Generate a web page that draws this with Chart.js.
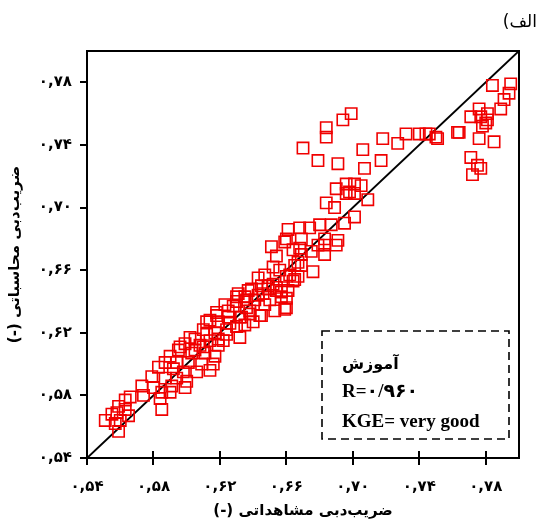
<!DOCTYPE html>
<html><head><meta charset="utf-8">
<script src="https://cdn.jsdelivr.net/npm/chart.js@4.4.1/dist/chart.umd.min.js"></script>
<style>html,body{margin:0;padding:0;background:#fff}#wrap{width:542px;height:529px;position:relative}</style>
</head><body><div id="wrap"><canvas id="c" width="542" height="529"></canvas></div>
<script>
// ---- data ----
const tickValues = [0.54, 0.58, 0.62, 0.66, 0.70, 0.74, 0.78];
const tickLabels = ['۰,۵۴', '۰,۵۸', '۰,۶۲', '۰,۶۶', '۰,۷۰', '۰,۷۴', '۰,۷۸'];
const lineEnds = [0.54, 0.80];
const chartTitle = 'الف)\u200F';
const xTitle = 'ضریب\u200Cدبی مشاهداتی (-)\u200F';
const yTitle = 'ضریب\u200Cدبی محاسباتی (-)\u200F';
const legendLines = ['آموزش', 'R=۰/۹۶۰', 'KGE= very good'];

const observed = [
0.784,0.795,0.794,0.791,0.789,0.776,0.771,0.777,0.781,0.781,0.780,0.778,0.763,0.764,0.776,0.785,0.771,0.775,0.777,0.772,
0.670,0.679,0.691,0.684,0.684,0.694,0.699,0.706,0.707,0.717,0.718,0.727,0.732,0.740,0.744,0.746,0.750,0.751,
0.690,0.696,0.701,0.705,0.696,0.701,0.698,0.709,0.684,0.689,
0.701,0.695,0.687,0.680,0.674,0.668,0.661,0.660,0.669,0.683,0.691,0.690,0.679,0.683,0.651,0.668,0.664,0.654,0.669,0.683,0.675,0.659,
0.667,0.665,0.652,0.669,0.676,0.662,0.665,0.660,0.643,0.649,0.654,0.639,0.657,0.646,0.635,0.630,0.628,0.625,0.660,0.645,0.618,0.614,0.636,0.638,0.633,
0.667,0.664,0.652,0.649,0.654,0.643,0.637,0.631,0.660,0.659,0.636,0.630,0.623,0.638,0.644,0.618,0.632,0.625,0.619,0.612,0.640,0.630,0.624,0.617,0.610,
0.605,0.614,0.622,0.632,0.599,0.596,0.610,0.612,0.619,0.624,0.608,0.619,0.595,0.603,0.611,0.617,0.590,0.587,0.594,0.601,0.609,0.616,
0.583,0.592,0.598,0.606,0.614,0.579,0.587,0.594,0.600,0.599,0.591,0.573,0.580,0.585,0.590,0.574,0.584,0.566,0.563,0.559,0.563,0.585,
0.558,0.565,0.555,0.551,0.560,0.557,0.559,0.661,0.657,
0.626,0.635,0.647,0.650,0.641,0.653,0.645,0.656,0.647,0.605,0.602
];
const simulated = [
0.778,0.779,0.773,0.769,0.763,0.763,0.758,0.758,0.760,0.756,0.754,0.752,0.748,0.748,0.744,0.742,0.732,0.727,0.725,0.721,
0.738,0.730,0.728,0.751,0.745,0.756,0.760,0.737,0.725,0.730,0.744,0.741,0.747,0.747,0.747,0.747,0.745,0.744,
0.712,0.715,0.715,0.714,0.709,0.709,0.710,0.705,0.703,0.700,
0.694,0.690,0.689,0.689,0.687,0.687,0.686,0.680,0.680,0.680,0.679,0.676,0.676,0.676,0.675,0.674,0.673,0.669,0.670,0.670,0.672,0.678,
0.665,0.663,0.662,0.663,0.659,0.657,0.654,0.656,0.655,0.650,0.649,0.648,0.646,0.645,0.643,0.643,0.637,0.634,0.636,0.631,0.631,0.628,0.636,0.632,0.630,
0.656,0.653,0.651,0.648,0.647,0.644,0.647,0.645,0.642,0.635,0.641,0.640,0.638,0.634,0.631,0.633,0.630,0.630,0.627,0.627,0.627,0.624,0.622,0.620,0.622,
0.616,0.615,0.615,0.617,0.613,0.611,0.611,0.619,0.616,0.619,0.612,0.612,0.609,0.607,0.607,0.605,0.605,0.601,0.601,0.601,0.600,0.600,
0.598,0.597,0.595,0.595,0.596,0.592,0.591,0.591,0.589,0.585,0.586,0.586,0.585,0.582,0.582,0.580,0.578,0.579,0.577,0.573,0.571,0.571,
0.569,0.567,0.568,0.564,0.564,0.562,0.557,0.647,0.643,
0.626,0.625,0.638,0.641,0.641,0.634,0.650,0.660,0.657,0.609,0.617
];

// ---- chart ----
const points = observed.map((v, i) => ({x: v, y: simulated[i]}));
const diag = lineEnds.map(v => ({x: v, y: v}));
const tickFont = {family: "'DejaVu Sans', sans-serif", weight: 'bold', size: 15};
const titleFont = {family: "'DejaVu Sans', sans-serif", weight: 'bold', size: 15};

const framePlugin = {
  id: 'frame',
  afterDraw(chart) {
    const {ctx, chartArea: ca, scales: {x}} = chart;
    ctx.save();
    ctx.strokeStyle = '#000';
    ctx.lineWidth = 2;
    ctx.strokeRect(ca.left, ca.top, ca.right - ca.left, ca.bottom - ca.top);
    tickValues.forEach(v => {
      const px = Math.round(x.getPixelForValue(v));
      ctx.beginPath(); ctx.moveTo(px, ca.bottom); ctx.lineTo(px, ca.bottom - 7); ctx.stroke();
    });
    // title
    ctx.fillStyle = '#000';
    ctx.font = "17px 'DejaVu Sans', sans-serif";
    ctx.textAlign = 'right'; ctx.textBaseline = 'middle';
    ctx.fillText(chartTitle, ca.right + 18, ca.top - 28);
    // legend box
    const bl = ca.right - 197, bt = ca.bottom - 127, bw = 187, bh = 108;
    ctx.setLineDash([8, 5]);
    ctx.lineWidth = 1.6;
    ctx.strokeRect(bl, bt, bw, bh);
    ctx.setLineDash([]);
    ctx.textAlign = 'left';
    ctx.font = "bold 16px 'DejaVu Sans', sans-serif";
    ctx.fillText(legendLines[0], bl + 20, bt + 34);
    ctx.font = "bold 19px 'Liberation Serif', 'DejaVu Sans', serif";
    ctx.fillText(legendLines[1], bl + 20, bt + 61);
    ctx.fillText(legendLines[2], bl + 20, bt + 91);
    ctx.restore();
  }
};

new Chart(document.getElementById('c'), {
  type: 'scatter',
  data: {
    datasets: [
      {data: points, pointStyle: 'rect', pointRadius: 8, pointHoverRadius: 8,
       borderColor: '#f00000', backgroundColor: 'rgba(0,0,0,0)', borderWidth: 1.6, order: 1},
      {data: diag, showLine: true, pointRadius: 0, borderColor: '#000', borderWidth: 2, order: 2}
    ]
  },
  options: {
    responsive: false, animation: false, devicePixelRatio: 1,
    layout: {padding: {left: 0, right: 23, top: 51, bottom: 0}},
    plugins: {legend: {display: false}, tooltip: {enabled: false}},
    scales: {
      x: {
        type: 'linear', min: 0.54, max: 0.80,
        afterBuildTicks: s => { s.ticks = tickValues.map(v => ({value: v})); },
        afterFit: s => { s.height = 71; },
        ticks: {font: tickFont, color: '#000', padding: 13, maxRotation: 0,
                callback: (v) => tickLabels[tickValues.findIndex(t => Math.abs(t - v) < 1e-6)]},
        grid: {drawOnChartArea: false, color: '#000', lineWidth: 2, tickLength: 7, tickWidth: 2},
        border: {display: true, color: '#000', width: 2},
        title: {display: true, text: xTitle, font: titleFont, color: '#000', padding: {top: 0, bottom: 9}}
      },
      y: {
        type: 'linear', min: 0.54, max: 0.80,
        afterBuildTicks: s => { s.ticks = tickValues.map(v => ({value: v})); },
        afterFit: s => { s.width = 87; },
        ticks: {font: tickFont, color: '#000', padding: 8,
                callback: (v) => tickLabels[tickValues.findIndex(t => Math.abs(t - v) < 1e-6)]},
        grid: {drawOnChartArea: false, color: '#000', lineWidth: 2, tickLength: 7, tickWidth: 2},
        border: {display: true, color: '#000', width: 2},
        title: {display: true, text: yTitle, font: titleFont, color: '#000', padding: {top: 6, bottom: 0}}
      }
    }
  },
  plugins: [framePlugin]
});
</script>
</body></html>
